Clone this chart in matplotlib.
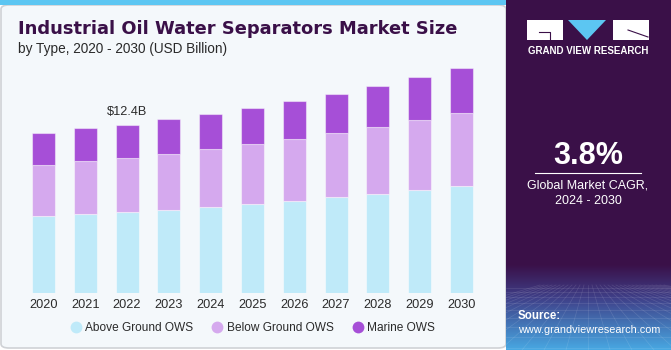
import numpy as np
import matplotlib
matplotlib.use("Agg")
import matplotlib.pyplot as plt
from matplotlib.patches import Rectangle, FancyBboxPatch, Polygon
from matplotlib.lines import Line2D

years = ["2020", "2021", "2022", "2023", "2024", "2025",
         "2026", "2027", "2028", "2029", "2030"]
above_ground = [5.65, 5.82, 5.97, 6.14, 6.34, 6.56, 6.78, 7.05, 7.29, 7.59, 7.91]
below_ground = [3.76, 3.90, 3.98, 4.10, 4.25, 4.40, 4.57, 4.72, 4.91, 5.14, 5.36]
marine = [2.36, 2.43, 2.45, 2.56, 2.62, 2.70, 2.82, 2.92, 3.09, 3.19, 3.32]
series_names = ["Above Ground OWS", "Below Ground OWS", "Marine OWS"]
series_colors = ["#bfeaf9", "#d5a9ee", "#a64fd7"]
callout_year = "2022"
callout_text = "$12.4B"

W, H = 671, 350
plt.rcParams["font.family"] = ["Liberation Sans", "DejaVu Sans"]

fig = plt.figure(figsize=(W / 100, H / 100), dpi=100)
fig.patch.set_facecolor("white")


def fx(px):
    return px / W


def fy(py):
    # py measured from the top
    return 1 - py / H


# left panel background + border
panel = FancyBboxPatch((fx(1), fy(348)), fx(505), (347 - 4) / H,
                       boxstyle="round,pad=0,rounding_size=0.012",
                       transform=fig.transFigure, facecolor="#f4f8fb",
                       edgecolor="#cfd2d6", linewidth=1.2, zorder=-2)
fig.patches.append(panel)
fig.patches.append(Rectangle((0, fy(5)), fx(506), 5 / H, transform=fig.transFigure,
                             facecolor="#5cc6f2", edgecolor="none", zorder=-1))

# title
fig.text(fx(18), fy(29), "Industrial Oil Water Separators Market Size",
         fontsize=12.9, fontweight="bold", color="#3a1048", va="center",
         family=["DejaVu Sans"])
fig.text(fx(18), fy(49), "by Type, 2020 - 2030 (USD Billion)",
         fontsize=9.8, color="#2a2a2a", va="center")

# chart
ax = fig.add_axes([fx(22.6), 57 / H, fx(459.8), 233 / H])
ax.set_facecolor("none")
x = np.arange(len(years))
bottom = np.zeros(len(years))
for vals, name, col in zip([above_ground, below_ground, marine], series_names, series_colors):
    ax.bar(x, vals, width=0.55, bottom=bottom, color=col, label=name,
           edgecolor=(1, 1, 1, 0.45), linewidth=0.8)
    bottom = bottom + np.array(vals)
ax.set_xlim(-0.5, len(years) - 0.5)
ax.set_ylim(0, 17.17)
ax.set_xticks(x)
ax.set_xticklabels(years, fontsize=9.2, color="#2a2a2a")
ax.tick_params(axis="x", length=0, pad=4)
ax.set_yticks([])
for s in ax.spines.values():
    s.set_visible(False)

ci = years.index(callout_year)
ax.annotate(callout_text, (ci, bottom[ci]), xytext=(0, 5), textcoords="offset points",
            ha="center", va="bottom", fontsize=9.2, color="#2a2a2a")

handles = [Line2D([0], [0], marker="o", linestyle="none", markersize=8.5,
                  markerfacecolor=c, markeredgecolor="none") for c in series_colors]
fig.legend(handles, series_names, loc="center", bbox_to_anchor=(fx(252), fy(328)),
           ncol=3, frameon=False, fontsize=8.6, handletextpad=0.2,
           columnspacing=1.4, handlelength=1.2, labelcolor="#2a2a2a")

# right panel
rax = fig.add_axes([fx(506), 0, fx(165), 1])
rax.set_xlim(0, 165)
rax.set_ylim(350, 0)
rax.axis("off")
top = np.array([0x3a, 0x10, 0x48]) / 255
mid = np.array([0x3f, 0x3f, 0x88]) / 255
low = np.array([0x48, 0xa8, 0xe2]) / 255
rows = np.linspace(0, 350, 350)
grad = np.zeros((350, 1, 3))
for i, r in enumerate(rows):
    if r < 265:
        grad[i, 0] = top
    elif r < 298:
        t = (r - 265) / 33
        grad[i, 0] = top * (1 - t) + mid * t
    else:
        t = (r - 298) / 52
        grad[i, 0] = mid * (1 - t) + low * t
rax.imshow(grad, extent=(0, 165, 350, 0), aspect="auto", zorder=0)

# faint perspective mesh
for k in range(-12, 20):
    rax.plot([82 + k * 4, 82 + k * 22], [285, 350], color="white", alpha=0.12, lw=0.5)
for yy in [288, 292, 297, 303, 310, 318, 327, 337, 348]:
    rax.plot([0, 165], [yy, yy], color="white", alpha=0.12, lw=0.5)

# logo
rax.add_patch(Rectangle((21, 20), 35.5, 20, facecolor="white", edgecolor="none"))
rax.plot([33, 44, 44], [32, 32, 40], color="#3a1048", lw=0.8)
rax.add_patch(Polygon([[62, 20], [100, 20], [81, 40]], closed=True,
                      facecolor="#5cc6f2", edgecolor="none"))
rax.add_patch(Rectangle((107, 20), 35.5, 20, facecolor="white", edgecolor="none"))
rax.plot([122, 142], [30, 37], color="#3a1048", lw=0.8)
rax.text(82, 51, "GRAND VIEW RESEARCH", color="white", fontsize=7,
         fontweight="bold", ha="center", va="center")

rax.text(82, 156, "3.8%", color="white", fontsize=22, fontweight="bold",
         ha="center", va="center")
rax.plot([29, 135], [173, 173], color="white", lw=0.8)
rax.text(82, 186, "Global Market CAGR,", color="white", fontsize=9,
         ha="center", va="center")
rax.text(82, 201, "2024 - 2030", color="white", fontsize=9,
         ha="center", va="center")
rax.text(12, 316, "Source:", color="white", fontsize=8.3, fontweight="bold",
         ha="left", va="center")
rax.text(12, 330, "www.grandviewresearch.com", color="white", fontsize=7.8,
         ha="left", va="center")

fig.savefig("out.png", dpi=100, facecolor=fig.get_facecolor())
